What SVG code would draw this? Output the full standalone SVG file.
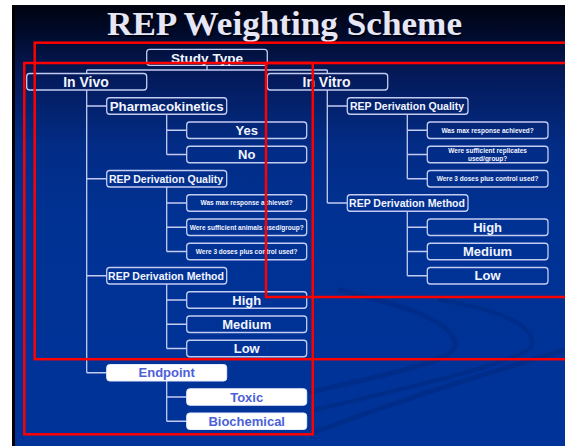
<svg xmlns="http://www.w3.org/2000/svg" width="565" height="446" viewBox="0 0 565 446">
<defs>
<linearGradient id="bg" x1="0" y1="5" x2="0" y2="446" gradientUnits="userSpaceOnUse">
<stop offset="0" stop-color="#000410"/>
<stop offset="0.06" stop-color="#010a2a"/>
<stop offset="0.16" stop-color="#041a5a"/>
<stop offset="0.32" stop-color="#022c86"/>
<stop offset="0.5" stop-color="#003294"/>
<stop offset="1" stop-color="#003399"/>
</linearGradient>
<style>
.box{fill:none;stroke:#c4ccf2;stroke-width:1.3}
.wbox{fill:#ffffff;stroke:#e8ecff;stroke-width:1}
.conn{fill:none;stroke:#c4ccf2;stroke-width:1.3}
.lbl{font-family:"Liberation Sans",Arial,sans-serif;font-weight:bold;fill:#f2f4ff;text-anchor:middle}
.wl{fill:#4d5fd9}
.s14{font-size:14px}
.s13{font-size:13px}
.s105{font-size:10.5px}
.s65{font-size:6.5px}
.red{fill:none;stroke:#ff0000;stroke-width:2.5}
.sw{fill:none;stroke:#002a85;stroke-linecap:round}
</style>
</defs>
<rect x="0" y="0" width="565" height="446" fill="#ffffff"/>
<rect x="12" y="5" width="553" height="441" fill="url(#bg)"/>
<rect x="12" y="5" width="3" height="441" fill="#000000"/>
<g id="swooshes" opacity="0.7">
<path class="sw" stroke-width="5" d="M340 290 C 400 305, 455 320, 455 345 C 455 360, 400 372, 310 392"/>
<path class="sw" stroke-width="4" d="M440 300 C 500 310, 535 325, 532 345 C 528 360, 420 385, 315 410"/>
<path class="sw" stroke-width="5" d="M565 350 C 480 375, 400 400, 315 432"/>
</g>
<g id="title">
<text x="286" y="36.5" font-family="'Liberation Serif','Times New Roman',serif" font-weight="bold" font-size="33" text-anchor="middle" textLength="355" lengthAdjust="spacingAndGlyphs" fill="#000000" opacity="0.7">REP Weighting Scheme</text>
<text x="284.5" y="35" font-family="'Liberation Serif','Times New Roman',serif" font-weight="bold" font-size="33" text-anchor="middle" textLength="355" lengthAdjust="spacingAndGlyphs" fill="#e6e6f6">REP Weighting Scheme</text>
</g>
<g id="connectors">
<path class="conn" d="M207 65.5V70M86.7 70H327.3M86.7 70V73.5M327.3 70V73.5"/>
<path class="conn" d="M86.7 90V372.75M86.7 106H106.7M86.7 178.75H106.7M86.7 275.75H106.7M86.7 372.75H106.7"/>
<path class="conn" d="M166.7 114.25V154.5M166.7 130.25H186.7M166.7 154.5H186.7"/>
<path class="conn" d="M166.7 187V251.5M166.7 203H186.7M166.7 227.25H186.7M166.7 251.5H186.7"/>
<path class="conn" d="M166.7 284V348.5M166.7 300H186.7M166.7 324.25H186.7M166.7 348.5H186.7"/>
<path class="conn" d="M166.7 381V421.25M166.7 397H186.7M166.7 421.25H186.7"/>
<path class="conn" d="M327.3 90V203M327.3 106H347.3M327.3 203H347.3"/>
<path class="conn" d="M407.3 114.25V178.75M407.3 130.25H427.3M407.3 154.5H427.3M407.3 178.75H427.3"/>
<path class="conn" d="M407.3 211.25V275.75M407.3 227.25H427.3M407.3 251.5H427.3M407.3 275.75H427.3"/>
</g>
<g id="study-type"><rect class="box" x="146.7" y="49.3" width="120.6" height="16" rx="3"/><text class="lbl s13" x="207" y="62.8" textLength="72" lengthAdjust="spacingAndGlyphs">Study Type</text></g>
<g id="in-vivo"><rect class="box" x="26.7" y="73.5" width="120" height="16.5" rx="3"/><text class="lbl s14" x="86" y="87">In Vivo</text></g>
<g id="in-vitro"><rect class="box" x="267.3" y="73.5" width="120.4" height="16.5" rx="3"/><text class="lbl s14" x="326.5" y="87">In Vitro</text></g>
<g id="pk"><rect class="box" x="106.7" y="97.75" width="120" height="16.5" rx="3"/><text class="lbl s13" x="166.7" y="110.6" textLength="114" lengthAdjust="spacingAndGlyphs">Pharmacokinetics</text></g>
<g id="pk-yes"><rect class="box" x="186.7" y="122" width="120" height="16.5" rx="3"/><text class="lbl s13" x="246.7" y="134.85">Yes</text></g>
<g id="pk-no"><rect class="box" x="186.7" y="146.25" width="120" height="16.5" rx="3"/><text class="lbl s13" x="246.7" y="159.1">No</text></g>
<g id="vivo-dq"><rect class="box" x="106.7" y="170.5" width="120" height="16.5" rx="3"/><text class="lbl s105" x="166" y="182.55">REP Derivation Quality</text></g>
<g id="vivo-q1"><rect class="box" x="186.7" y="194.75" width="120" height="16.5" rx="3"/><text class="lbl s65" x="246.7" y="205.3">Was max response achieved?</text></g>
<g id="vivo-q2"><rect class="box" x="186.7" y="219" width="120" height="16.5" rx="3"/><text class="lbl s65" x="246.7" y="229.55" textLength="114" lengthAdjust="spacingAndGlyphs">Were sufficient animals used/group?</text></g>
<g id="vivo-q3"><rect class="box" x="186.7" y="243.25" width="120" height="16.5" rx="3"/><text class="lbl s65" x="246.7" y="253.8">Were 3 doses plus control used?</text></g>
<g id="vivo-dm"><rect class="box" x="106.7" y="267.5" width="120" height="16.5" rx="3"/><text class="lbl s105" x="166" y="279.55">REP Derivation Method</text></g>
<g id="vivo-high"><rect class="box" x="186.7" y="291.75" width="120" height="16.5" rx="3"/><text class="lbl s13" x="246.7" y="304.6">High</text></g>
<g id="vivo-medium"><rect class="box" x="186.7" y="316" width="120" height="16.5" rx="3"/><text class="lbl s13" x="246.7" y="328.85">Medium</text></g>
<g id="vivo-low"><rect class="box" x="186.7" y="340.25" width="120" height="16.5" rx="3"/><text class="lbl s13" x="246.7" y="353.1">Low</text></g>
<g id="endpoint"><rect class="wbox" x="106.7" y="364.5" width="120" height="16.5" rx="3"/><text class="lbl wl s13" x="166.7" y="377.35">Endpoint</text></g>
<g id="toxic"><rect class="wbox" x="186.7" y="388.75" width="120" height="16.5" rx="3"/><text class="lbl wl s13" x="246.7" y="401.6">Toxic</text></g>
<g id="biochemical"><rect class="wbox" x="186.7" y="413" width="120" height="16.5" rx="3"/><text class="lbl wl s13" x="246.7" y="425.85">Biochemical</text></g>
<g id="vitro-dq"><rect class="box" x="347.3" y="97.75" width="120.7" height="16.5" rx="3"/><text class="lbl s105" x="407" y="109.8">REP Derivation Quality</text></g>
<g id="vitro-q1"><rect class="box" x="427.3" y="122" width="120.7" height="16.5" rx="3"/><text class="lbl s65" x="487.6" y="132.55">Was max response achieved?</text></g>
<g id="vitro-q2"><rect class="box" x="427.3" y="146.25" width="120.7" height="16.5" rx="3"/><text class="lbl s65" x="487.6" y="153.4">Were sufficient replicates</text><text class="lbl s65" x="487.6" y="161.4">used/group?</text></g>
<g id="vitro-q3"><rect class="box" x="427.3" y="170.5" width="120.7" height="16.5" rx="3"/><text class="lbl s65" x="487.6" y="181.05">Were 3 doses plus control used?</text></g>
<g id="vitro-dm"><rect class="box" x="347.3" y="194.75" width="120.7" height="16.5" rx="3"/><text class="lbl s105" x="407" y="206.8">REP Derivation Method</text></g>
<g id="vitro-high"><rect class="box" x="427.3" y="219" width="120.7" height="16.5" rx="3"/><text class="lbl s13" x="487.6" y="231.85">High</text></g>
<g id="vitro-medium"><rect class="box" x="427.3" y="243.25" width="120.7" height="16.5" rx="3"/><text class="lbl s13" x="487.6" y="256.1">Medium</text></g>
<g id="vitro-low"><rect class="box" x="427.3" y="267.5" width="120.7" height="16.5" rx="3"/><text class="lbl s13" x="487.6" y="280.35">Low</text></g>
<g id="red-frames">
<rect class="red" x="34.7" y="42.7" width="560" height="316.5"/>
<rect class="red" x="24.3" y="63" width="288.5" height="371.3"/>
<rect class="red" x="266" y="63" width="330" height="234"/>
</g>
</svg>
